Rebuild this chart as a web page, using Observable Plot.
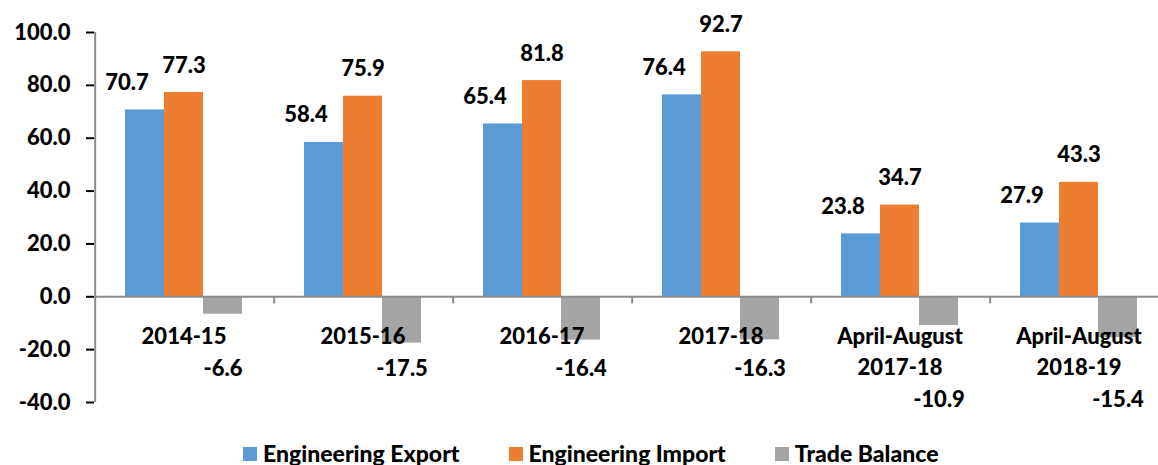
<!DOCTYPE html>
<html><head><meta charset="utf-8">
<script src="https://cdn.jsdelivr.net/npm/d3@7"></script>
<script src="https://cdn.jsdelivr.net/npm/@observablehq/plot@0.6"></script>
<style>
body{margin:0;background:#fff;font-family:Lato,sans-serif;}
#chart svg{display:block;overflow:hidden}
g[aria-label="y-axis tick"]{stroke:#8c8c8c;stroke-width:2px}
#legend{display:flex;align-items:baseline;margin-top:7px;padding-left:243px;font:900 23px Lato,sans-serif;color:#000;white-space:nowrap}
#legend .item{display:inline-flex;align-items:baseline;margin-right:49px}
#legend .sw{display:inline-block;width:14px;height:14px;margin-right:6px;position:relative;top:-1px}
</style></head><body>
<div id="chart"></div>
<div id="legend"></div>
<script>
const categories = ["2014-15","2015-16","2016-17","2017-18","April-August\n2017-18","April-August\n2018-19"];
const series = ["Engineering Export","Engineering Import","Trade Balance"];
const exportValues = [70.7,58.4,65.4,76.4,23.8,27.9];
const importValues = [77.3,75.9,81.8,92.7,34.7,43.3];
const balanceValues = [-6.6,-17.5,-16.4,-16.3,-10.9,-15.4];
const yTicks = [-40,-20,0,20,40,60,80,100];
const colors = ["#5B9BD5","#ED7D31","#A5A5A5"];

const valuesBySeries = [exportValues, importValues, balanceValues];
const rows = [];
categories.forEach((c, i) => series.forEach((s, j) => rows.push({category: c, series: s, value: valuesBySeries[j][i], lines: c.split("\n").length})));
const fmt = d => d.toFixed(1);
const font = {fontSize: 22, fontWeight: 900, fill: "#000"};
const axisColor = "#8c8c8c";

const chart = Plot.plot({
  width: 1158,
  height: 432,
  marginTop: 32,
  marginBottom: 30,
  marginLeft: 94,
  marginRight: 0,
  style: {fontFamily: "Lato, sans-serif", fontSize: "22px", fontWeight: 900, color: "#000", background: "#fff"},
  fx: {domain: categories, range: [94, 1168], padding: 0, axis: null},
  x: {domain: series, paddingInner: 0, paddingOuter: 0.755, axis: null},
  y: {domain: [-40, 100], ticks: yTicks, tickFormat: fmt, tickSize: 8, tickPadding: 16, label: null},
  color: {domain: series, range: colors},
  marks: [
    Plot.barY(rows, {fx: "category", x: "series", y: "value", fill: "series"}),
    Plot.ruleY([0], {stroke: axisColor, strokeWidth: 2}),
    Plot.ruleX([categories[0]], {fx: d => d, x: () => series[0], y1: () => -40, y2: () => 100, dx: -49.85, stroke: axisColor, strokeWidth: 2}),
    Plot.ruleX(categories.slice(1), {fx: d => d, x: () => series[0], y1: () => 0, y2: () => -2.7, dx: -49.85, stroke: axisColor, strokeWidth: 2}),
    Plot.text(rows.filter(d => d.series === series[0]), {fx: "category", x: "series", y: "value", text: d => fmt(d.value), dy: -27, dx: -18, lineAnchor: "middle", ...font}),
    Plot.text(rows.filter(d => d.series === series[1]), {fx: "category", x: "series", y: "value", text: d => fmt(d.value), dy: -27, lineAnchor: "middle", ...font}),
    Plot.text(categories, {fx: d => d, y: () => 0, text: d => d, dy: 25, lineAnchor: "top", lineHeight: 1.41, ...font}),
    Plot.text(rows.filter(d => d.series === series[2] && d.lines === 1), {fx: "category", x: "series", y: () => 0, text: d => fmt(d.value), dy: 64, lineAnchor: "top", ...font}),
    Plot.text(rows.filter(d => d.series === series[2] && d.lines === 2), {fx: "category", x: "series", y: () => 0, text: d => fmt(d.value), dy: 95, lineAnchor: "top", ...font})
  ]
});
document.getElementById("chart").appendChild(chart);

const legend = document.getElementById("legend");
series.forEach((s, i) => {
  const item = document.createElement("span");
  item.className = "item";
  const sw = document.createElement("span");
  sw.className = "sw";
  sw.style.background = colors[i];
  item.appendChild(sw);
  item.appendChild(document.createTextNode(s));
  legend.appendChild(item);
});
</script>
</body></html>
